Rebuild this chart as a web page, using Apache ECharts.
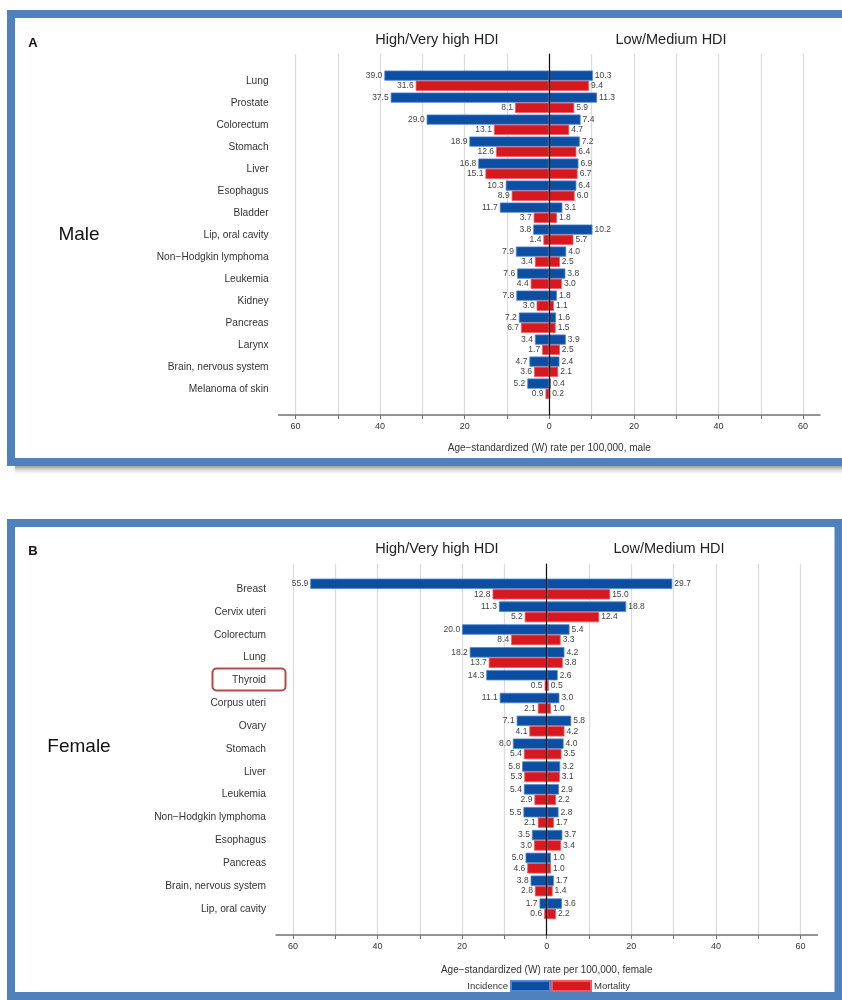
<!DOCTYPE html>
<html>
<head>
<meta charset="utf-8">
<script src="https://cdn.jsdelivr.net/npm/echarts@6/dist/echarts.min.js"></script>
<style>html,body{margin:0;padding:0;background:#fff;}#c{width:842px;height:1000px;}</style>
</head>
<body>
<div id="c"></div>
<script>
// ---------- DATA ----------
const maleCategories = ['Lung','Prostate','Colorectum','Stomach','Liver','Esophagus','Bladder','Lip, oral cavity','Non\u2212Hodgkin lymphoma','Leukemia','Kidney','Pancreas','Larynx','Brain, nervous system','Melanoma of skin'];
const maleIncHigh  = [39.0,37.5,29.0,18.9,16.8,10.3,11.7,3.8,7.9,7.6,7.8,7.2,3.4,4.7,5.2];
const maleMortHigh = [31.6,8.1,13.1,12.6,15.1,8.9,3.7,1.4,3.4,4.4,3.0,6.7,1.7,3.6,0.9];
const maleIncLow   = [10.3,11.3,7.4,7.2,6.9,6.4,3.1,10.2,4.0,3.8,1.8,1.6,3.9,2.4,0.4];
const maleMortLow  = [9.4,5.9,4.7,6.4,6.7,6.0,1.8,5.7,2.5,3.0,1.1,1.5,2.5,2.1,0.2];

const femaleCategories = ['Breast','Cervix uteri','Colorectum','Lung','Thyroid','Corpus uteri','Ovary','Stomach','Liver','Leukemia','Non\u2212Hodgkin lymphoma','Esophagus','Pancreas','Brain, nervous system','Lip, oral cavity'];
const femaleIncHigh  = [55.9,11.3,20.0,18.2,14.3,11.1,7.1,8.0,5.8,5.4,5.5,3.5,5.0,3.8,1.7];
const femaleMortHigh = [12.8,5.2,8.4,13.7,0.5,2.1,4.1,5.4,5.3,2.9,2.1,3.0,4.6,2.8,0.6];
const femaleIncLow   = [29.7,18.8,5.4,4.2,2.6,3.0,5.8,4.0,3.2,2.9,2.8,3.7,1.0,1.7,3.6];
const femaleMortLow  = [15.0,12.4,3.3,3.8,0.5,1.0,4.2,3.5,3.1,2.2,1.7,3.4,1.0,1.4,2.2];

const xTickValues  = [-60,-50,-40,-30,-20,-10,0,10,20,30,40,50,60];
const xLabelValues = [-60,-40,-20,0,20,40,60];
const xMin = -64, xMax = 64;
const seriesNames = ['Incidence','Mortality'];
const headerLeft = 'High/Very high HDI';
const headerRight = 'Low/Medium HDI';
// ---------- STYLE ----------
const FONT = '"Liberation Sans", Arial, sans-serif';
const BLUE = '#0b4ea2', BLUE_EDGE = '#4f86cf';
const RED = '#d8181f', RED_EDGE = '#f0595e';
const FRAME = '#4f81bd';

const chart = echarts.init(document.getElementById('c'), null, {renderer:'canvas'});

const grids = [], xAxes = [], yAxes = [], series = [];

function addPanel(p) {
  const gBg = grids.length;
  grids.push({left: p.left, width: p.width, top: p.bgTop, height: p.bgHeight, containLabel:false});
  grids.push({left: p.left, width: p.width, top: p.barTop, height: p.barHeight, containLabel:false});
  const gBar = gBg + 1;
  xAxes.push({
    gridIndex: gBg, type:'value', min:xMin, max:xMax,
    name: p.axisName, nameLocation:'middle', nameGap: p.nameGap,
    nameTextStyle:{fontFamily:FONT, fontSize:10, color:'#333'},
    axisLine:{show:true, onZero:false, lineStyle:{color:'#707070', width:1.5}},
    axisTick:{show:true, customValues: xTickValues, length:4, lineStyle:{color:'#707070', width:1}},
    axisLabel:{show:true, customValues: xLabelValues, fontFamily:FONT, fontSize:9, color:'#333', margin:7,
      formatter: v => String(Math.abs(v))},
    splitLine:{show:true, lineStyle:{color:'#dcdcdc', width:1.3}}
  });
  yAxes.push({
    gridIndex: gBg, type:'value', min:0, max:1, z:10,
    axisLine:{show:true, onZero:true, lineStyle:{color:'#111', width:1.2}},
    axisTick:{show:false}, axisLabel:{show:false}, splitLine:{show:false}
  });
  const xBar = xAxes.length;
  xAxes.push({gridIndex:gBar, type:'value', min:xMin, max:xMax, show:false, splitLine:{show:false}});
  const yBar = yAxes.length;
  yAxes.push({
    gridIndex:gBar, type:'category', data:p.cats, inverse:true,
    axisLine:{show:false}, axisTick:{show:false}, splitLine:{show:false},
    axisLabel:{fontFamily:FONT, fontSize:10.2, color:'#333', margin:p.labelMargin}
  });
  const lab = (pos) => ({show:true, position:pos, distance:2, fontFamily:FONT, fontSize:8.5, color:'#444',
    formatter: q => Math.abs(q.value).toFixed(1)});
  const mk = (name, data, stack, color, edge, pos) => ({
    type:'bar', name, xAxisIndex:xBar, yAxisIndex:yBar, stack, data,
    barWidth:p.barWidth, barGap:'0%',
    itemStyle:{color, borderColor:edge, borderWidth:0.8},
    label: lab(pos), emphasis:{disabled:true}, animation:false
  });
  series.push(mk(seriesNames[0], p.incH.map(v=>-v), 'inc'+gBar, BLUE, BLUE_EDGE, 'left'));
  series.push(mk(seriesNames[1], p.mortH.map(v=>-v), 'mort'+gBar, RED, RED_EDGE, 'left'));
  series.push(mk(seriesNames[0], p.incL, 'inc'+gBar, BLUE, BLUE_EDGE, 'right'));
  series.push(mk(seriesNames[1], p.mortL, 'mort'+gBar, RED, RED_EDGE, 'right'));
}

addPanel({cats:maleCategories, incH:maleIncHigh, mortH:maleMortHigh, incL:maleIncLow, mortL:maleMortLow,
  left:278.6, width:541.4, bgTop:54, bgHeight:361, barTop:69.7, barHeight:330, barWidth:10.2,
  labelMargin:10, axisName:'Age\u2212standardized (W) rate per 100,000, male', nameGap:28});
addPanel({cats:femaleCategories, incH:femaleIncHigh, mortH:femaleMortHigh, incL:femaleIncLow, mortL:femaleMortLow,
  left:276, width:541.4, bgTop:564, bgHeight:371, barTop:577.6, barHeight:342.6, barWidth:10.4,
  labelMargin:10, axisName:'Age\u2212standardized (W) rate per 100,000, female', nameGap:30});

const txt = (x, y, s, size, opt={}) => ({type:'text', x, y, silent:true, z:20,
  style:Object.assign({text:s, fontFamily:FONT, fontSize:size, fill:'#222', textAlign:'center', textVerticalAlign:'middle'}, opt)});

const graphic = [
  {type:'rect', z:-1, silent:true, shape:{x:11, y:14, width:845, height:448}, style:{fill:'#fff', stroke:FRAME, lineWidth:8}},
  {type:'rect', z:-2, silent:true, shape:{x:15, y:466, width:827, height:10},
    style:{fill:{type:'linear', x:0, y:0, x2:0, y2:1, colorStops:[{offset:0, color:'rgba(120,120,120,0.75)'},{offset:1, color:'rgba(255,255,255,0)'}]}}},
  {type:'rect', z:-1, silent:true, shape:{x:11, y:523, width:827.5, height:473}, style:{fill:'#fff', stroke:FRAME, lineWidth:8}},
  txt(33, 43, 'A', 13, {fontWeight:'bold', fill:'#111'}),
  txt(33, 551, 'B', 13, {fontWeight:'bold', fill:'#111'}),
  txt(79, 235, 'Male', 19, {fill:'#111'}),
  txt(79, 747, 'Female', 19, {fill:'#111'}),
  txt(437, 40, headerLeft, 14.5),
  txt(671, 40, headerRight, 14.5),
  txt(437, 549, headerLeft, 14.5),
  txt(669, 549, headerRight, 14.5),
  {type:'rect', z:20, silent:true, shape:{x:212.5, y:668.5, width:73, height:22, r:4}, style:{fill:'none', stroke:'#b84a4a', lineWidth:2}}
];

chart.setOption({
  animation:false,
  textStyle:{fontFamily:FONT},
  grid:grids, xAxis:xAxes, yAxis:yAxes, series,
  legend:[
    {data:[seriesNames[0]], align:'right', right:291, top:980, itemWidth:39, itemHeight:10, itemGap:0, icon:'rect',
     selectedMode:false, textStyle:{fontFamily:FONT, fontSize:9.5, color:'#333', padding:[0,-2,0,0]}, padding:0},
    {data:[seriesNames[1]], align:'left', left:551, top:980, itemWidth:39, itemHeight:10, itemGap:0, icon:'rect',
     selectedMode:false, textStyle:{fontFamily:FONT, fontSize:9.5, color:'#333', padding:[0,0,0,-2]}, padding:0}
  ],
  graphic
});
</script>
</body>
</html>
